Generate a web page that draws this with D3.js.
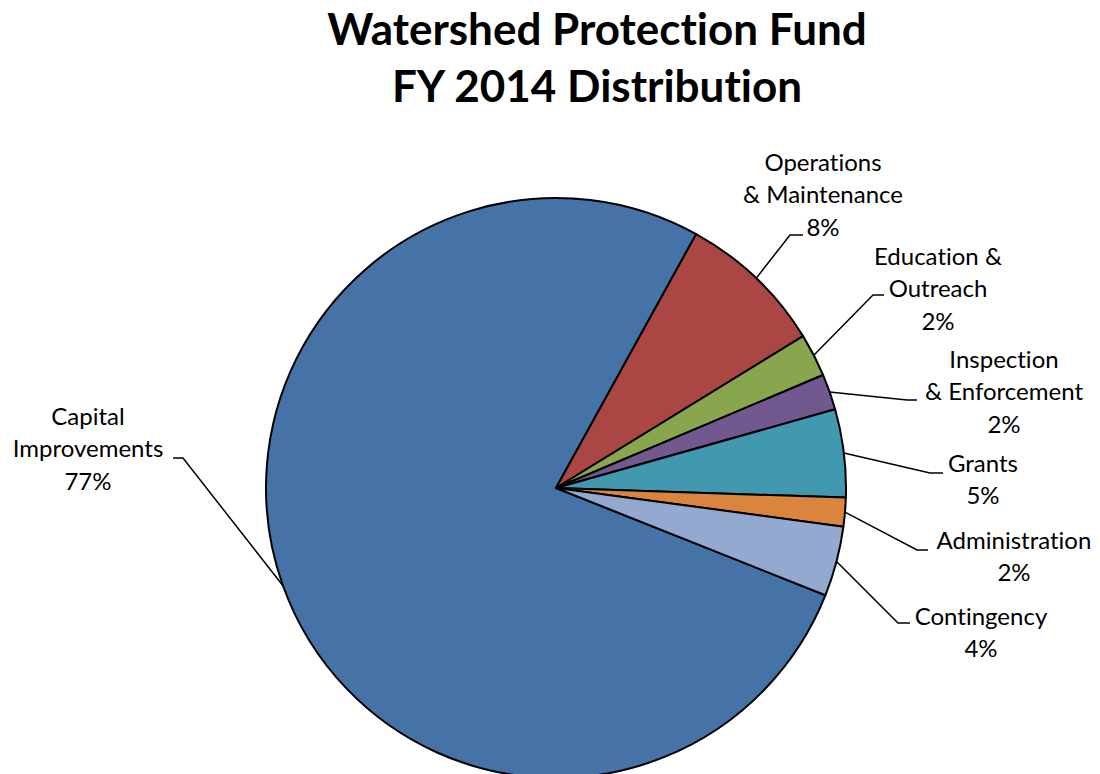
<!DOCTYPE html>
<html>
<head>
<meta charset="utf-8">
<script src="https://cdn.jsdelivr.net/npm/d3@7"></script>
<style>
  body { margin: 0; background: #fff; }
  svg text { font-family: Lato, "Liberation Sans", sans-serif; fill: #000; font-variant-ligatures: none; }
</style>
</head>
<body>
<svg id="chart" width="1100" height="774"></svg>
<script>
// data, in sheet order (Capital first)
const categories = ["Capital Improvements", "Operations & Maintenance", "Education & Outreach",
    "Inspection & Enforcement", "Grants", "Administration", "Contingency"];
const shares = [77.0, 8.2, 2.4, 2.0, 4.9, 1.6, 3.9];
const colors = ["#4572A7", "#AA4643", "#89A54E", "#71588F", "#4198AF", "#DB843D", "#93A9CF"];
const titleLines = ["Watershed Protection Fund", "FY 2014 Distribution"];

// label placement (manually placed labels in the original)
const labelLines = [["Capital", "Improvements"], ["Operations", "& Maintenance"], ["Education &", "Outreach"],
    ["Inspection", "& Enforcement"], ["Grants"], ["Administration"], ["Contingency"]];
const labelPos = [
    {cx: 88, y: 425, elbow: [183, 458], end: 173},
    {cx: 823, y: 171, elbow: [790, 235], end: 803},
    {cx: 938, y: 265, elbow: [873, 295], end: 884},
    {cx: 1004, y: 368, elbow: [907, 400], end: 917},
    {cx: 983, y: 472, elbow: [930, 473], end: 943},
    {cx: 1014, y: 549, elbow: [917, 550], end: 928},
    {cx: 981, y: 625, elbow: [898, 623], end: 910}
];

const svg = d3.select("#chart");
const cx = 556, cy = 488, radius = 290;
const lineH = 32.3;

// title
svg.selectAll("text.title").data(titleLines).enter().append("text")
    .attr("class", "title")
    .attr("x", 597)
    .attr("y", (d, i) => 45 + i * 57)
    .attr("text-anchor", "middle")
    .style("font-weight", "bold")
    .style("font-size", "44px")
    .text(d => d);

let total = d3.sum(shares);
let start = Math.PI * 2 * (28.9 / 360) - Math.PI * 2 * shares[0] / total;
let pie = d3.pie().sort(null).value(d => d)
    .startAngle(start).endAngle(start + Math.PI * 2);
let arcs = pie(shares);
let arc = d3.arc().innerRadius(0).outerRadius(radius);

let g = svg.append("g").attr("transform", "translate(" + cx + "," + cy + ")");
g.selectAll("path.slice").data(arcs).enter().append("path")
    .attr("class", "slice")
    .attr("d", arc)
    .style("fill", (d, i) => colors[i])
    .style("stroke", "#000")
    .style("stroke-width", 2)
    .style("stroke-linejoin", "round");

// leader lines: from slice edge at mid angle to elbow, then short horizontal
svg.selectAll("path.leader").data(arcs).enter().append("path")
    .attr("class", "leader")
    .attr("d", (d, i) => {
        let a = (d.startAngle + d.endAngle) / 2;
        let x0 = cx + radius * Math.sin(a), y0 = cy - radius * Math.cos(a);
        let p = labelPos[i];
        return `M ${x0} ${y0} L ${p.elbow[0]} ${p.elbow[1]} L ${p.end} ${p.elbow[1]}`;
    })
    .style("fill", "none")
    .style("stroke", "#000")
    .style("stroke-width", 1.5);

let fmt = d3.format(".0%");
let labels = svg.selectAll("text.label").data(arcs).enter().append("text")
    .attr("class", "label")
    .attr("text-anchor", "middle")
    .style("font-size", "24px");
labels.each(function (d, i) {
    let lines = labelLines[i].concat([fmt(d.value / total)]);
    d3.select(this).selectAll("tspan").data(lines).enter().append("tspan")
        .attr("x", labelPos[i].cx)
        .attr("y", (t, j) => labelPos[i].y + j * lineH)
        .text(t => t);
});
</script>
</body>
</html>
